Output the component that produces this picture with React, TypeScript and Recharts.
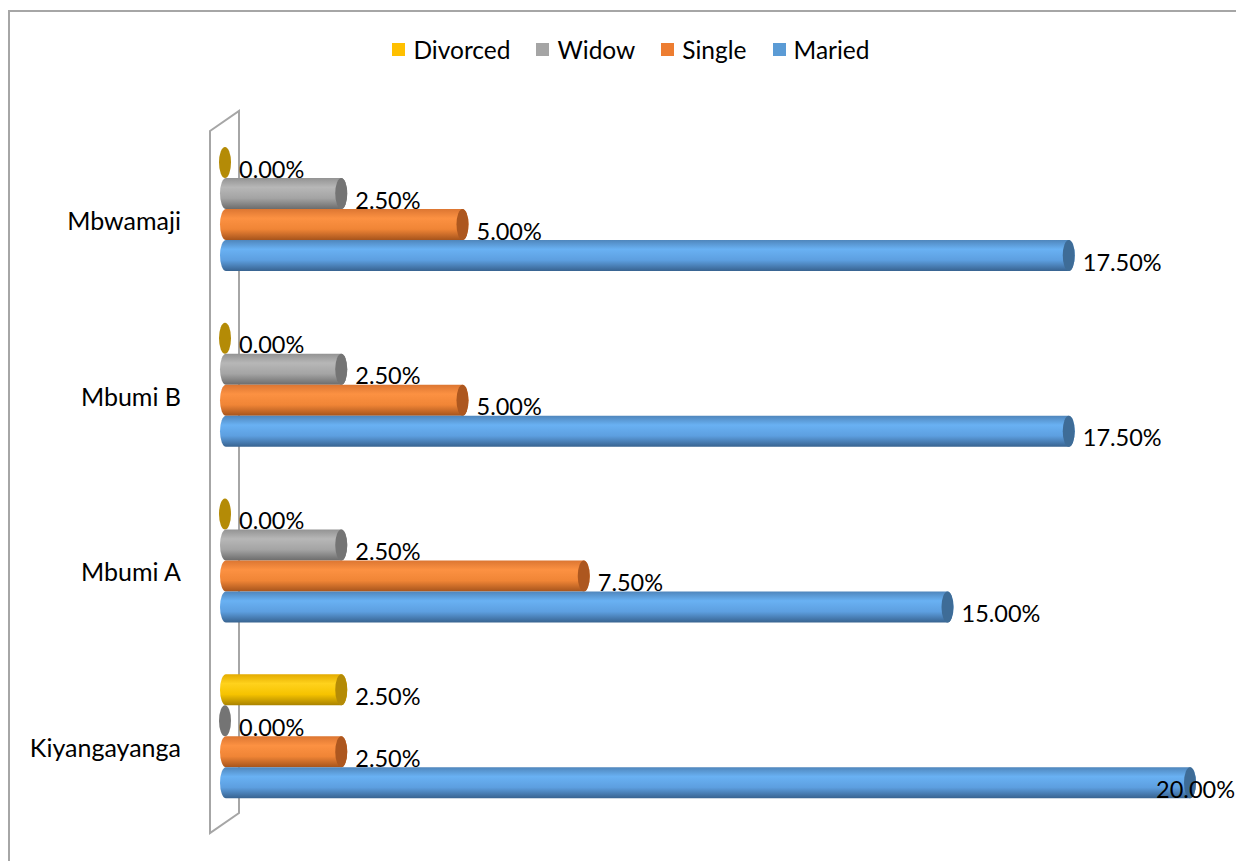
import React from "react";
import {
  BarChart,
  Bar,
  XAxis,
  YAxis,
  Legend,
  LabelList,
  Customized,
} from "recharts";

const villages = ["Mbwamaji", "Mbumi B", "Mbumi A", "Kiyangayanga"];
const divorced = [0, 0, 0, 2.5];
const widow = [2.5, 2.5, 2.5, 0];
const single = [5, 5, 7.5, 2.5];
const maried = [17.5, 17.5, 15, 20];

const seriesKeys = ["Divorced", "Widow", "Single", "Maried"];

const data = villages.map((village, i) => ({
  village,
  Divorced: divorced[i],
  Widow: widow[i],
  Single: single[i],
  Maried: maried[i],
}));

const W = 1234;
const H = 849;
const FONT = "Lato, 'Open Sans', sans-serif";

// colours for each cylinder: legend swatch, body gradient stops and end cap
const TONES: Record<string, { swatch: string; stops: string[]; cap: string }> = {
  Divorced: {
    swatch: "#FFC000",
    stops: ["#e3ab00", "#ffd21c", "#f6c300", "#a98200"],
    cap: "#b48b06",
  },
  Widow: {
    swatch: "#A5A5A5",
    stops: ["#939393", "#b7b7b7", "#a4a4a4", "#6c6c6c"],
    cap: "#747474",
  },
  Single: {
    swatch: "#ED7D31",
    stops: ["#dc7632", "#fc9142", "#f08536", "#a6541c"],
    cap: "#ad571f",
  },
  Maried: {
    swatch: "#5B9BD5",
    stops: ["#4f86bc", "#69b1f3", "#5d9fe0", "#386390"],
    cap: "#3e6c97",
  },
};

const makeCylinder = (key: string) => (props: any) => {
  const { x, y, width, height } = props;
  const tone = TONES[key];
  const end = x + Math.max(width || 0, 5);
  const ry = height / 2;
  return (
    <g>
      {width > 0 && (
        <rect
          x={x}
          y={y}
          width={end - x + 6}
          height={height}
          rx={6}
          ry={ry}
          fill={`url(#cyl-${key})`}
        />
      )}
      <ellipse cx={end} cy={y + ry} rx={6} ry={ry} fill={tone.cap} />
    </g>
  );
};

const ValueLabel = (props: any) => {
  const { x, y, width, height, value } = props;
  const end = x + Math.max(width || 0, 5);
  let tx = end + 14;
  let anchor: "start" | "end" = "start";
  if (tx + 80 > W - 4) {
    tx = W - 9;
    anchor = "end";
  }
  return (
    <text
      x={tx}
      y={y + height / 2 + 6}
      textAnchor={anchor}
      dominantBaseline="central"
      fontFamily={FONT}
      fontSize={23.5}
      fill="#000"
    >
      {`${Number(value).toFixed(2)}%`}
    </text>
  );
};

const VillageTick = (props: any) => {
  const { x, y, payload } = props;
  return (
    <text
      x={x}
      y={y + 10}
      textAnchor="end"
      dominantBaseline="central"
      fontFamily={FONT}
      fontSize={25}
      fill="#000"
    >
      {payload.value}
    </text>
  );
};

// back wall of the 3D category axis
const AxisWall = () => (
  <polygon
    points="200,119 229,99 229,801 200,821"
    fill="none"
    stroke="#a6a6a6"
    strokeWidth={2}
  />
);

const LegendContent = () => (
  <div
    style={{
      height: 90,
      display: "flex",
      justifyContent: "center",
      alignItems: "flex-start",
      fontFamily: FONT,
      fontSize: 24.5,
      color: "#000",
      paddingLeft: 8,
      boxSizing: "border-box",
    }}
  >
    {seriesKeys.map((key) => (
      <div
        key={key}
        style={{
          display: "flex",
          alignItems: "center",
          height: 34,
          margin: "0 13px",
        }}
      >
        <span
          style={{
            width: 13,
            height: 13,
            background: TONES[key].swatch,
            marginRight: 8,
            display: "inline-block",
          }}
        />
        {key}
      </div>
    ))}
  </div>
);

export default function App() {
  return (
    <div
      style={{
        marginTop: 2,
        borderTop: "2px solid #a6a6a6",
        borderLeft: "2px solid #a6a6a6",
        width: W,
        height: H,
        background: "#fff",
      }}
    >
      <BarChart
        width={W}
        height={H}
        data={data}
        layout="vertical"
        margin={{ top: 20, right: 54, bottom: 36, left: 0 }}
        barCategoryGap={25}
        barGap={0}
      >
        <defs>
          {seriesKeys.map((key) => (
            <linearGradient
              key={key}
              id={`cyl-${key}`}
              x1="0"
              y1="0"
              x2="0"
              y2="1"
            >
              <stop offset="0%" stopColor={TONES[key].stops[0]} />
              <stop offset="30%" stopColor={TONES[key].stops[1]} />
              <stop offset="65%" stopColor={TONES[key].stops[2]} />
              <stop offset="100%" stopColor={TONES[key].stops[3]} />
            </linearGradient>
          ))}
        </defs>
        <Customized component={AxisWall} />
        <XAxis type="number" domain={[0, 20]} hide />
        <YAxis
          type="category"
          dataKey="village"
          width={210}
          axisLine={false}
          tickLine={false}
          tickSize={0}
          tickMargin={39}
          tick={<VillageTick />}
        />
        <Legend
          verticalAlign="top"
          height={90}
          content={<LegendContent />}
          wrapperStyle={{ top: 20, left: 0, width: W }}
        />
        {seriesKeys.map((key) => (
          <Bar
            key={key}
            dataKey={key}
            shape={makeCylinder(key)}
            isAnimationActive={false}
          >
            <LabelList dataKey={key} content={<ValueLabel />} />
          </Bar>
        ))}
      </BarChart>
    </div>
  );
}
